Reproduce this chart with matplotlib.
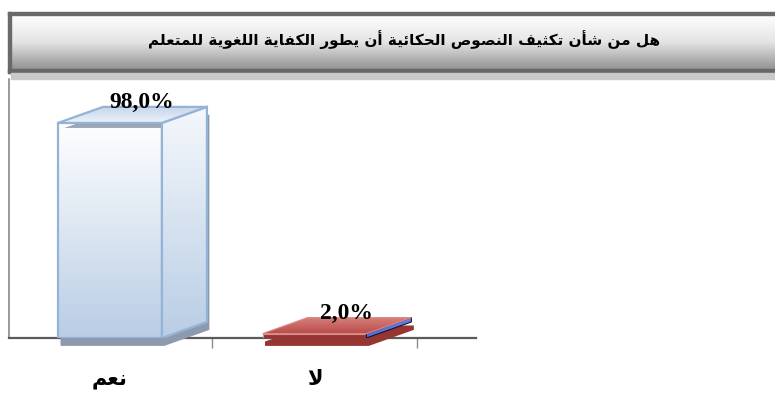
import matplotlib.pyplot as plt
import numpy as np
from matplotlib.patches import Polygon, Rectangle
from matplotlib.colors import LinearSegmentedColormap

title = "هل من شأن تكثيف النصوص الحكائية أن يطور الكفاية اللغوية للمتعلم"
categories = ["نعم", "لا"]
values = [98.0, 2.0]

# Arabic presentation forms: isolated, final, initial, medial
FORMS = {
    "ا": (0xFE8D, 0xFE8E, None, None),
    "أ": (0xFE83, 0xFE84, None, None),
    "ب": (0xFE8F, 0xFE90, 0xFE91, 0xFE92),
    "ة": (0xFE93, 0xFE94, None, None),
    "ت": (0xFE95, 0xFE96, 0xFE97, 0xFE98),
    "ث": (0xFE99, 0xFE9A, 0xFE9B, 0xFE9C),
    "ح": (0xFEA1, 0xFEA2, 0xFEA3, 0xFEA4),
    "ر": (0xFEAD, 0xFEAE, None, None),
    "ش": (0xFEB5, 0xFEB6, 0xFEB7, 0xFEB8),
    "ص": (0xFEB9, 0xFEBA, 0xFEBB, 0xFEBC),
    "ط": (0xFEC1, 0xFEC2, 0xFEC3, 0xFEC4),
    "ع": (0xFEC9, 0xFECA, 0xFECB, 0xFECC),
    "غ": (0xFECD, 0xFECE, 0xFECF, 0xFED0),
    "ف": (0xFED1, 0xFED2, 0xFED3, 0xFED4),
    "ك": (0xFED9, 0xFEDA, 0xFEDB, 0xFEDC),
    "ل": (0xFEDD, 0xFEDE, 0xFEDF, 0xFEE0),
    "م": (0xFEE1, 0xFEE2, 0xFEE3, 0xFEE4),
    "ن": (0xFEE5, 0xFEE6, 0xFEE7, 0xFEE8),
    "ه": (0xFEE9, 0xFEEA, 0xFEEB, 0xFEEC),
    "و": (0xFEED, 0xFEEE, None, None),
    "ي": (0xFEF1, 0xFEF2, 0xFEF3, 0xFEF4),
    "ئ": (0xFE89, 0xFE8A, 0xFE8B, 0xFE8C),
}
LAM_ALEF = {"ا": (0xFEFB, 0xFEFC), "أ": (0xFEF7, 0xFEF8)}


def joins_next(c):
    return c in FORMS and FORMS[c][2] is not None


def shape(text):
    # join letters and reverse for left-to-right drawing
    out = []
    i = 0
    n = len(text)
    while i < n:
        c = text[i]
        if c not in FORMS:
            out.append(c)
            i += 1
            continue
        p = i > 0 and joins_next(text[i - 1])
        if c == "ل" and i + 1 < n and text[i + 1] in LAM_ALEF:
            iso, fin = LAM_ALEF[text[i + 1]]
            out.append(chr(fin if p else iso))
            i += 2
            continue
        q = joins_next(c) and i + 1 < n and text[i + 1] in FORMS
        iso, fin, ini, med = FORMS[c]
        if p and q:
            f = med
        elif p:
            f = fin
        elif q:
            f = ini
        else:
            f = iso
        out.append(chr(f))
        i += 1
    return "".join(reversed(out))


def gradient_poly(ax, verts, colors, zorder=3, edge="none", lw=0.0):
    verts = np.asarray(verts, dtype=float)
    x0, x1 = verts[:, 0].min(), verts[:, 0].max()
    y0, y1 = verts[:, 1].min(), verts[:, 1].max()
    cmap = LinearSegmentedColormap.from_list("g", colors)
    grad = np.linspace(0, 1, 256).reshape(-1, 1)
    im = ax.imshow(grad, extent=[x0, x1, y0, y1], origin="lower", aspect="auto",
                   cmap=cmap, zorder=zorder, interpolation="bilinear")
    patch = Polygon(verts, closed=True, facecolor="none", edgecolor=edge,
                    linewidth=lw, zorder=zorder + 0.1, joinstyle="miter")
    ax.add_patch(patch)
    im.set_clip_path(patch)
    return patch


W, H = 775, 398
fig = plt.figure(figsize=(W / 100, H / 100), dpi=100)

# header box in pixel coordinates
bg = fig.add_axes([0, 0, 1, 1])
bg.set_xlim(0, W)
bg.set_ylim(H, 0)
bg.axis("off")
bg.imshow(np.linspace(0, 1, 256).reshape(-1, 1), extent=[11, W, 69, 15],
          cmap=LinearSegmentedColormap.from_list("h", ["#ffffff", "#e4e4e4", "#939393"]),
          aspect="auto", origin="upper", zorder=1)
bg.add_patch(Rectangle((8, 12), W - 8, 3, color="#6a6a6a", zorder=2))
bg.add_patch(Rectangle((8, 12), 3, 61, color="#6a6a6a", zorder=2))
bg.add_patch(Rectangle((8, 69), W - 8, 4, color="#676767", zorder=2))
bg.add_patch(Rectangle((11, 73), W - 11, 6, color="#c9c9c9", zorder=2))
bg.text(404, 40, shape(title), ha="center", va="center", fontsize=11,
        fontweight="bold", family="DejaVu Sans", color="black", zorder=3)

# plot area: baseline at y=338 px, 98% at y=123 px
ax = fig.add_axes([9 / W, (H - 338) / H, (476 - 9) / W, (338 - 79) / H])
ax.set_facecolor("none")

bar_w = 0.508
dx, dy = 0.22, 7.3
shadow_off = (0.012, -3.6)

styles = [
    dict(front=["#b9cde5", "#ffffff"], side=["#b9cde5", "#f5f8fc"],
         top=["#eef3f9", "#c3d4ea"], edge="#95b3d7", lw=1.6, shadow="#8d9aad"),
    dict(front=["#8e302e", "#a43d3a"], side=["#4d68cf", "#6c82e2"],
         top=["#b94a47", "#d8817d"], edge="#d88c89", lw=0.8, shadow="#963633",
         side_edge="#141430"),
]

for i, (v, st) in enumerate(zip(values, styles)):
    x0, x1 = i - bar_w / 2, i + bar_w / 2
    sil = [(x0, 0), (x1, 0), (x1 + dx, dy), (x1 + dx, v + dy), (x0 + dx, v + dy), (x0, v)]
    sh = [(x + shadow_off[0], y + shadow_off[1]) for x, y in sil]
    ax.add_patch(Polygon(sh, closed=True, facecolor=st["shadow"], edgecolor="none",
                         zorder=2.8, clip_on=False))

    front = [(x0, 0), (x1, 0), (x1, v), (x0, v)]
    side = [(x1, 0), (x1 + dx, dy), (x1 + dx, v + dy), (x1, v)]
    top = [(x0, v), (x1, v), (x1 + dx, v + dy), (x0 + dx, v + dy)]
    gradient_poly(ax, front, st["front"], zorder=3, edge=st["edge"], lw=st["lw"])
    gradient_poly(ax, side, st["side"], zorder=3.2,
                  edge=st.get("side_edge", st["edge"]), lw=st["lw"])
    gradient_poly(ax, top, st["top"], zorder=3.4, edge=st["edge"], lw=st["lw"])

    if v > 20:
        # shading strip under the front top edge
        ax.add_patch(Polygon([(x0 + 0.03, v - 2.3), (x0 + 0.09, v - 0.4), (x1 - 0.004, v - 0.4),
                              (x1 - 0.004, v - 2.3)], closed=True, facecolor="#9aa5b5",
                             edgecolor="none", zorder=3.3))

    ax.text(i + 0.155, v + dy - 0.5, f"{v:.1f}".replace(".", ",") + "%",
            ha="center", va="baseline", fontsize=17, fontweight="bold",
            family="Liberation Serif", color="black", zorder=5)

ax.set_xlim(-0.494, 1.79)
ax.set_ylim(0, 118)

ax.spines["top"].set_visible(False)
ax.spines["right"].set_visible(False)
ax.spines["left"].set_color("#7f7f7f")
ax.spines["left"].set_linewidth(1.1)
ax.spines["bottom"].set_color("#5a5a5a")
ax.spines["bottom"].set_linewidth(1.6)

ax.set_yticks([])
ax.set_xticks(range(len(categories)))
ax.set_xticklabels([shape(c) for c in categories], fontsize=15, fontweight="bold",
                   family="DejaVu Sans")
ax.tick_params(axis="x", which="major", length=0, pad=22)
ax.set_xticks([0.5, 1.5], minor=True)
ax.tick_params(axis="x", which="minor", length=7.5, width=1, color="#8a8a8a",
               direction="out")

fig.savefig("out.png", dpi=100)
